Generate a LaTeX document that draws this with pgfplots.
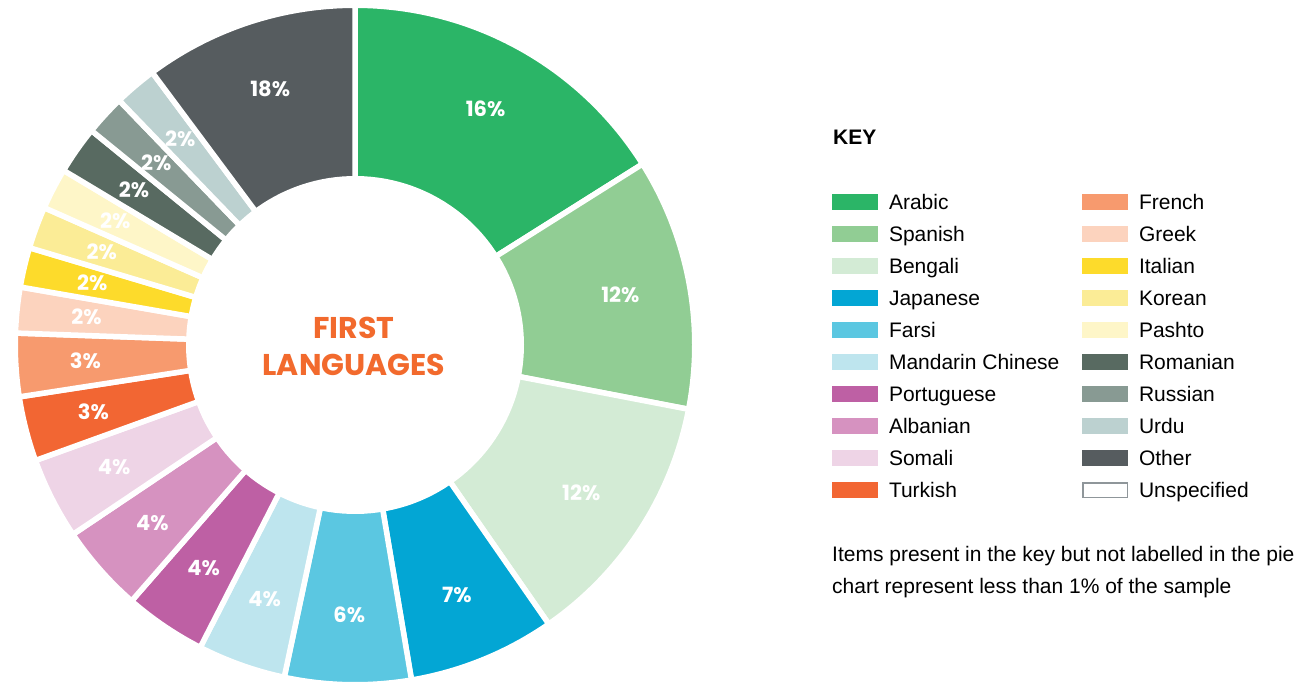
\documentclass[border=0pt]{standalone}
\usepackage{pgfplots}
\usepackage{pgfplotstable}
\pgfplotsset{compat=1.18}
\usepackage{fontspec}
\setmainfont{Liberation Sans}
\newfontfamily\pop{Poppins}

\definecolor{c0}{HTML}{2BB567}
\definecolor{c1}{HTML}{91CD94}
\definecolor{c2}{HTML}{D3EBD5}
\definecolor{c3}{HTML}{03A6D4}
\definecolor{c4}{HTML}{5BC7E1}
\definecolor{c5}{HTML}{BEE5EE}
\definecolor{c6}{HTML}{BE60A4}
\definecolor{c7}{HTML}{D692C0}
\definecolor{c8}{HTML}{EED4E6}
\definecolor{c9}{HTML}{F26633}
\definecolor{c10}{HTML}{F79A6E}
\definecolor{c11}{HTML}{FCD3BE}
\definecolor{c12}{HTML}{FDDB2B}
\definecolor{c13}{HTML}{FBEC96}
\definecolor{c14}{HTML}{FEF6C8}
\definecolor{c15}{HTML}{586A61}
\definecolor{c16}{HTML}{889A93}
\definecolor{c17}{HTML}{BCD1D0}
\definecolor{c18}{HTML}{565C5F}
\definecolor{titleorange}{HTML}{F26A2D}
\definecolor{keygray}{HTML}{8F969A}

% share = part of the circle (percent) as drawn; label = printed percentage
\pgfplotstableread[col sep=comma]{
lang,share,label
Arabic,16.06,16
Spanish,11.97,12
Bengali,12.31,12
Japanese,7.00,7
Farsi,6.00,6
Mandarin Chinese,4.19,4
Portuguese,3.89,4
Albanian,4.17,4
Somali,3.89,4
Turkish,3.08,3
French,3.00,3
Greek,2.17,2
Italian,1.89,2
Korean,2.00,2
Pashto,1.97,2
Romanian,2.28,2
Russian,1.92,2
Urdu,2.03,2
Other,10.19,18
}\langdata

\begin{document}%
\def\cumangle{0}%
\pgfplotsforeachungrouped \i in {0,...,18}{%
  \pgfplotstablegetelem{\i}{share}\of\langdata%
  \pgfmathsetmacro\endangle{\cumangle+3.6*\pgfplotsretval}%
  \pgfmathsetmacro\midangle{(\cumangle+\endangle)/2}%
  \pgfmathsetmacro\lx{355+270*sin(\midangle)}%
  \pgfmathsetmacro\ly{338+270*cos(\midangle)}%
  \expandafter\xdef\csname s\i\endcsname{\cumangle}%
  \expandafter\xdef\csname e\i\endcsname{\endangle}%
  \expandafter\xdef\csname lx\i\endcsname{\lx}%
  \expandafter\xdef\csname ly\i\endcsname{\ly}%
  \pgfplotstablegetelem{\i}{label}\of\langdata%
  \expandafter\xdef\csname l\i\endcsname{\pgfplotsretval}%
  \pgfplotstablegetelem{\i}{lang}\of\langdata%
  \expandafter\xdef\csname n\i\endcsname{\pgfplotsretval}%
  \xdef\cumangle{\endangle}%
}%
\begin{tikzpicture}
\begin{axis}[
  at={(0pt,0pt)}, anchor=south west,
  width=1297pt, height=683pt, scale only axis,
  xmin=0, xmax=1297, ymin=0, ymax=683,
  hide axis, clip=false,
  legend columns=10, transpose legend,
  legend cell align=left,
  legend image code/.code={\fill[#1,draw=none] (0pt,-8pt) rectangle (46pt,8pt);},
  legend style={at={(axis cs:832,497)}, anchor=north west, draw=none, fill=none,
    inner sep=0pt, outer sep=0pt, font=\fontsize{21}{25}\selectfont, row sep=0pt,
    nodes={inner sep=0pt, text height=23.5pt, text depth=8.5pt},
    /tikz/every odd column/.append style={column sep=11pt},
    /tikz/every even column/.append style={column sep=22.6pt}},
]
\pgfplotsinvokeforeach{0,...,18}{%
  \edef\tmp{\noexpand\addplot[fill=c#1, draw=white, line width=5.5pt,
    domain=\csname s#1\endcsname:\csname e#1\endcsname, samples=60]
    ({355+339.75*sin(x)},{338+339.75*cos(x)}) -- (axis cs:355,338) -- cycle;}%
  \tmp
  \addlegendentry{\csname n#1\endcsname}
}
\addlegendimage{legend image code/.code={\draw[fill=white, draw=keygray, line width=1.5pt] (0.75pt,-7.25pt) rectangle (45.25pt,7.25pt);}}
\addlegendentry{Unspecified}
\addplot[fill=white, draw=none, domain=0:360, samples=150, forget plot]
  ({355+169*cos(x)},{338+169*sin(x)}) -- cycle;
\pgfplotsinvokeforeach{0,...,18}{%
  \node[text=white, font=\pop\bfseries\fontsize{21}{21}\selectfont]
    at (axis cs:\csname lx#1\endcsname,\csname ly#1\endcsname) {\csname l#1\endcsname\%};
}
\node[anchor=base, font=\pop\bfseries\fontsize{30}{30}\selectfont, text=titleorange, inner sep=0pt]
  at (axis cs:354,344.5) {FIRST};
\node[anchor=base, font=\pop\bfseries\fontsize{30}{30}\selectfont, text=titleorange, inner sep=0pt]
  at (axis cs:354,308) {LANGUAGES};
\node[anchor=base west, font=\bfseries\fontsize{21}{21}\selectfont, inner sep=0pt]
  at (axis cs:833,538) {KEY};
\node[anchor=base west, font=\fontsize{21}{21}\selectfont, inner sep=0pt]
  at (axis cs:832,121.3) {Items present in the key but not labelled in the pie};
\node[anchor=base west, font=\fontsize{21}{21}\selectfont, inner sep=0pt]
  at (axis cs:832,89.7) {chart represent less than 1\% of the sample};
\end{axis}
\pgfresetboundingbox
\useasboundingbox (0pt,0pt) rectangle (1297pt,683pt);
\end{tikzpicture}%
\end{document}
